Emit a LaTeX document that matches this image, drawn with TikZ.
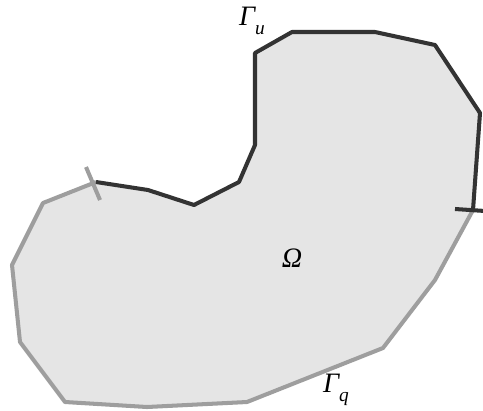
\documentclass[tikz,border=0pt]{standalone}
\usepackage{fontspec}
\setmainfont{Liberation Serif}
\usetikzlibrary{calc}

\definecolor{dirich}{HTML}{333333}
\definecolor{neum}{HTML}{9E9E9E}
\definecolor{domfill}{HTML}{E5E5E5}

\newcommand{\bdlabel}[2]{\itshape #1\raisebox{-0.7ex}{\fontsize{11}{13}\selectfont #2}}

\begin{document}
\begin{tikzpicture}[
  x=0.02cm,
  y=-0.02cm,
  line join=round,
  every node/.style={font=\fontsize{16}{18}\selectfont}
]
  \useasboundingbox (0,0) rectangle (483,410);

  % junctions between the two boundary parts
  \coordinate (jl) at (96,182);
  \coordinate (jr) at (473,210);

  % corners of the upper part
  \coordinate (u1) at (148,190);
  \coordinate (u2) at (194,205);
  \coordinate (u3) at (239,182);
  \coordinate (u4) at (255,145);
  \coordinate (u5) at (255,53);
  \coordinate (u6) at (292,32);
  \coordinate (u7) at (375,32);
  \coordinate (u8) at (435,45);
  \coordinate (u9) at (480,113);

  % corners of the lower part
  \coordinate (q1) at (435,280);
  \coordinate (q2) at (383,348);
  \coordinate (q3) at (247,402);
  \coordinate (q4) at (147,407);
  \coordinate (q5) at (65,402);
  \coordinate (q6) at (20,342);
  \coordinate (q7) at (12,265);
  \coordinate (q8) at (43,203);

  % domain
  \fill[domfill] (jl) -- (u1) -- (u2) -- (u3) -- (u4) -- (u5) -- (u6) -- (u7)
    -- (u8) -- (u9) -- (jr) -- (q1) -- (q2) -- (q3) -- (q4) -- (q5) -- (q6)
    -- (q7) -- (q8) -- cycle;

  % boundary parts
  \draw[neum, line width=2.3pt] (jr) -- (q1) -- (q2) -- (q3) -- (q4) -- (q5)
    -- (q6) -- (q7) -- (q8) -- (jl);
  \draw[dirich, line width=2.3pt] (jl) -- (u1) -- (u2) -- (u3) -- (u4) -- (u5)
    -- (u6) -- (u7) -- (u8) -- (u9) -- (jr);

  % end marks
  \draw[neum, line width=2.3pt] ($(jl)+(-10,-15)$) -- ($(jl)+(4,18)$);
  \draw[dirich, line width=2.3pt] ($(jr)+(-18,-1)$) -- ($(jr)+(12,1)$);

  \node (gu) at (252,21) {\bdlabel{Γ}{u}};
  \node (om) at (292,258) {\itshape Ω};
  \node (gq) at (336,390) {\bdlabel{Γ}{q}};
\end{tikzpicture}
\end{document}
